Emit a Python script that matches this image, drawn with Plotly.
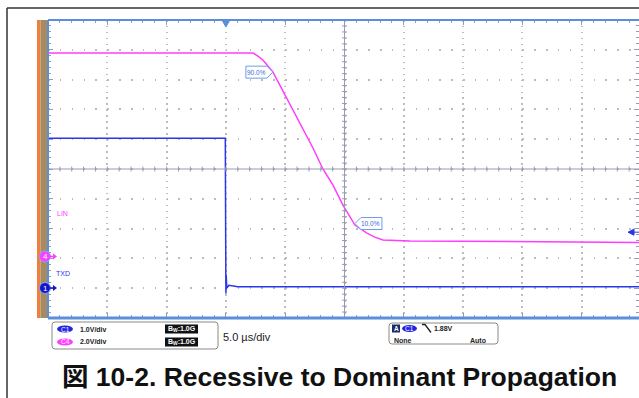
import plotly.graph_objects as go

# ------------------------------------------------------------
# Données lues sur la capture (temps en µs, tensions en V)
# ------------------------------------------------------------
txd_t = [-15, -0.05, 0.0, 0.02, 0.08, 0.25, 1.0, 35]
txd_v = [5.03, 5.03, -0.18, 0.45, 0.0, 0.1, 0.05, 0.05]

lin_t = [-15, 2.28, 2.70, 3.12, 3.96, 4.97, 5.82, 7.34, 8.18, 9.02, 9.87,
         10.88, 11.89, 12.56, 13.24, 14.25, 15.51, 35]
lin_v = [13.78, 13.78, 13.58, 13.32, 12.51, 10.97, 9.76, 7.41, 6.0, 4.93, 3.58,
         2.24, 1.70, 1.43, 1.23, 1.2, 1.17, 1.07]

mesure_pct = ["90.0%", "10.0%"]
mesure_t = [3.96, 10.88]
mesure_v = [12.5, 2.34]

trig_level = 1.88
ch_labels = ["LIN", "TXD"]
caption = "図 10-2. Recessive to Dominant Propagation"

BLUE = "#2a36e8"
PINK = "#ff3cff"
BORDER = "#5b8fdc"
TICK = "#9a9ab4"
GRID = "#bdbdbd"
FONT = "Liberation Sans"

# géométrie (pixels) de la zone tracée
PL, PT, PW, PH = 48, 20, 591, 298
DIV_W = 59.3


def px(x):
    return (x - PL) / PW


def py(y):
    return (PT + PH - y) / PH


def roundrect(x0, y0, x1, y1, r=3):
    a, b, c, d = px(x0), py(y0), px(x1), py(y1)
    rx, ry = r / PW, r / PH
    return (f"M{a+rx},{b} L{c-rx},{b} Q{c},{b} {c},{b-ry} L{c},{d+ry} Q{c},{d} {c-rx},{d} "
            f"L{a+rx},{d} Q{a},{d} {a},{d+ry} L{a},{b-ry} Q{a},{b} {a+rx},{b} Z")


def texte(x, y, s, size=7, color="#222", anchor="center"):
    return dict(x=px(x), y=py(y), xref="paper", yref="paper", text=s, showarrow=False,
                xanchor=anchor, yanchor="middle",
                font=dict(size=size, color=color, family=FONT))


fig = go.Figure()
fig.add_trace(go.Scatter(x=lin_t, y=lin_v, yaxis="y2", mode="lines",
                         line=dict(color=PINK, width=1.5), hoverinfo="skip"))
fig.add_trace(go.Scatter(x=txd_t, y=txd_v, mode="lines",
                         line=dict(color=BLUE, width=1.5), hoverinfo="skip"))

shapes = []
ann = []

# croix centrale + graduations
shapes.append(dict(type="line", xref="x", yref="y", x0=-15, x1=35, y0=4, y1=4,
                   line=dict(color=TICK, width=1)))
shapes.append(dict(type="line", xref="x", yref="y", x0=10, x1=10, y0=-1, y1=9,
                   line=dict(color=TICK, width=1)))
for i in range(1, 50):
    shapes.append(dict(type="line", xref="x", yref="y", x0=-15 + i, x1=-15 + i,
                       ysizemode="pixel", yanchor=4, y0=-2.5, y1=2.5,
                       line=dict(color=TICK, width=1)))
    shapes.append(dict(type="line", xref="x", yref="y", y0=-1 + i * 0.2, y1=-1 + i * 0.2,
                       xsizemode="pixel", xanchor=10, x0=-2.5, x1=2.5,
                       line=dict(color=TICK, width=1)))

# bords bleus de l'écran (pas de bord droit : il sort de l'image)
shapes.append(dict(type="line", xref="paper", yref="paper", x0=0, x1=1.01, y0=1, y1=1,
                   line=dict(color=BORDER, width=2)))
shapes.append(dict(type="line", xref="paper", yref="paper", x0=0, x1=1.01, y0=0, y1=0,
                   line=dict(color=BORDER, width=3)))
shapes.append(dict(type="line", xref="paper", yref="paper", x0=0, x1=0, y0=0, y1=1,
                   line=dict(color=BORDER, width=2)))

# bande orange / brune à gauche
shapes.append(dict(type="rect", xref="paper", yref="paper", x0=px(37), x1=px(40.5),
                   y0=py(20), y1=py(318), fillcolor="#ee7e42", line_width=0, layer="below"))
shapes.append(dict(type="rect", xref="paper", yref="paper", x0=px(40.5), x1=px(47),
                   y0=py(20), y1=py(318), fillcolor="#a68b5e", line_width=0, layer="below"))

# cadre noir extérieur
shapes.append(dict(type="line", xref="paper", yref="paper", x0=px(7), x1=px(7),
                   y0=py(8), y1=py(400), line=dict(color="#333", width=1.5)))
shapes.append(dict(type="line", xref="paper", yref="paper", x0=px(7), x1=px(640),
                   y0=py(8), y1=py(8), line=dict(color="#333", width=1.5)))

# marqueur de déclenchement (haut) et niveau (droite)
shapes.append(dict(type="path", xref="x", yref="paper", xsizemode="pixel", xanchor=0,
                   path=f"M-4,{py(20)} L4,{py(20)} L0,{py(27)} Z",
                   fillcolor=BORDER, line=dict(color=BORDER, width=1)))
shapes.append(dict(type="path", xref="paper", yref="y", ysizemode="pixel", yanchor=trig_level,
                   path=f"M{px(628)},0 L{px(634)},3 L{px(634)},-3 Z",
                   fillcolor=BLUE, line=dict(color=BLUE, width=1)))
shapes.append(dict(type="line", xref="paper", yref="y", x0=px(633), x1=px(640),
                   y0=trig_level, y1=trig_level, line=dict(color=BLUE, width=1)))

# repères de voie (4 = LIN, 1 = TXD)
for yc, col, num in [(256.5, PINK, "4"), (288, "#1414c8", "1")]:
    shapes.append(dict(type="circle", xref="paper", yref="paper", x0=px(39.5), x1=px(50.5),
                       y0=py(yc - 5.5), y1=py(yc + 5.5), fillcolor=col,
                       line=dict(color="#7fa8ff", width=1)))
    shapes.append(dict(type="line", xref="paper", yref="paper", x0=px(50), x1=px(54),
                       y0=py(yc), y1=py(yc), line=dict(color=col, width=1.5)))
    shapes.append(dict(type="path", xref="paper", yref="paper",
                       path=f"M{px(53)},{py(yc-3)} L{px(57)},{py(yc)} L{px(53)},{py(yc+3)} Z",
                       fillcolor=col, line_width=0))
    ann.append(texte(45, yc, num, size=8, color="white"))

ann.append(texte(55, 213, ch_labels[0], color=PINK, anchor="left"))
ann.append(texte(54, 273, ch_labels[1], color=BLUE, anchor="left"))

# étiquettes 90 % / 10 %
for lab, t, v, side in zip(mesure_pct, mesure_t, mesure_v, [-1, 1]):
    if side < 0:
        path = "M0,0 L-6,6 L-27,6 L-27,-6 L-6,-6 Z"
        cx = -16
    else:
        path = "M0,0 L6,6 L27,6 L27,-6 L6,-6 Z"
        cx = 16
    shapes.append(dict(type="path", xref="x", yref="y2", xsizemode="pixel", ysizemode="pixel",
                       xanchor=t, yanchor=v, path=path, fillcolor="white",
                       line=dict(color="#6a9ee8", width=1)))
    ann.append(dict(x=t, y=v, xref="x", yref="y2", xshift=cx, text=lab, showarrow=False,
                    xanchor="center", yanchor="middle",
                    font=dict(size=6.5, color="#3a6ad8", family=FONT)))

# boîte d'info voies
shapes.append(dict(type="path", xref="paper", yref="paper", path=roundrect(52, 322, 218, 349),
                   fillcolor="white", line=dict(color="#8a8a8a", width=1)))
for yc, col, ch, vdiv in [(329, "#2424e0", "C1", "1.0V/div"), (342, PINK, "C4", "2.0V/div")]:
    shapes.append(dict(type="circle", xref="paper", yref="paper", x0=px(57), x1=px(73),
                       y0=py(yc - 3.5), y1=py(yc + 3.5), fillcolor=col, line_width=0))
    ann.append(texte(65, yc, ch, size=6.5, color="white"))
    ann.append(texte(78, yc, f"<b>{vdiv}</b>", anchor="left"))
    shapes.append(dict(type="rect", xref="paper", yref="paper", x0=px(165), x1=px(198),
                       y0=py(yc - 4.5), y1=py(yc + 4.5), fillcolor="#111", line_width=0))
    ann.append(texte(181.5, yc, "<b>B<sub>W</sub>:1.0G</b>", color="white"))
ann.append(texte(221, 337, "5.0 µs/div", size=11, anchor="left"))

# boîte de déclenchement
shapes.append(dict(type="path", xref="paper", yref="paper", path=roundrect(389, 323, 498, 344),
                   fillcolor="white", line=dict(color="#8a8a8a", width=1)))
shapes.append(dict(type="rect", xref="paper", yref="paper", x0=px(392), x1=px(400),
                   y0=py(324.5), y1=py(332.5), fillcolor="#1a2a6a", line_width=0))
ann.append(texte(396, 328.5, "<b>A</b>", size=6.5, color="white"))
shapes.append(dict(type="circle", xref="paper", yref="paper", x0=px(402), x1=px(417),
                   y0=py(325), y1=py(332), fillcolor="#2424e0", line_width=0))
ann.append(texte(409.5, 328.5, "C1", size=6.5, color="white"))
shapes.append(dict(type="path", xref="paper", yref="paper",
                   path=f"M{px(422)},{py(324.5)} L{px(425)},{py(324.5)} L{px(431)},{py(332.5)}",
                   line=dict(color="#222", width=1.3)))
ann.append(texte(432, 328.5, f"<b>{trig_level:.2f}V</b>", anchor="left"))
ann.append(texte(392, 340, "<b>None</b>", anchor="left"))
ann.append(texte(488, 340, "<b>Auto</b>", anchor="right"))

# légende de la figure
ann.append(dict(x=px(339.5), y=py(377), xref="paper", yref="paper", text=f"<b>{caption}</b>",
                showarrow=False, xanchor="center", yanchor="middle",
                font=dict(size=26.5, color="#111",
                          family="Liberation Sans, Arial, Noto Sans CJK JP")))

x_end = -15 + 50 * PW / (10 * DIV_W)
fig.update_layout(
    width=639, height=398,
    margin=dict(l=PL, r=0, t=PT, b=398 - PT - PH),
    paper_bgcolor="white", plot_bgcolor="white",
    showlegend=False,
    shapes=shapes, annotations=ann,
    xaxis=dict(range=[-15, x_end], tick0=-15, dtick=5, showticklabels=False,
               ticks="inside", ticklen=5, tickcolor=TICK,
               minor=dict(dtick=1, ticks="inside", ticklen=3, tickcolor=TICK),
               showline=False, mirror="ticks",
               showgrid=True, gridcolor=GRID, gridwidth=1.5, griddash="1.5px,4.46px",
               zeroline=False, fixedrange=True),
    yaxis=dict(range=[-1, 9], tick0=-1, dtick=1, showticklabels=False,
               ticks="inside", ticklen=5, tickcolor=TICK,
               minor=dict(dtick=0.2, ticks="inside", ticklen=3, tickcolor=TICK),
               showline=False, mirror="ticks",
               showgrid=True, gridcolor=GRID, gridwidth=1.5, griddash="1.5px,10.36px",
               zeroline=False, fixedrange=True),
    yaxis2=dict(range=[-4, 16], overlaying="y", visible=False, fixedrange=True),
)

fig.write_html("out.html", config={"displayModeBar": False},
               post_script="document.body.style.margin='0';document.body.style.overflow='hidden';")
